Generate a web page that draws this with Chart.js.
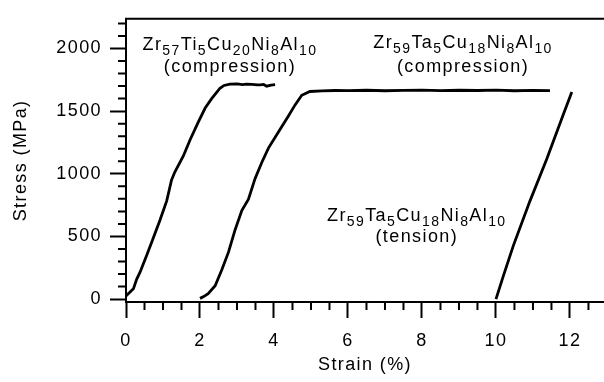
<!DOCTYPE html>
<html lang="en">
<head>
<meta charset="UTF-8">
<title>Stress-strain curves of Zr-based glasses</title>
<style>
    html, body { margin: 0; padding: 0; background: #fff; }
    #wrap { width: 604px; height: 382px; }
</style>
</head>
<body>
<div id="wrap"><canvas id="stressChart" width="604" height="382"></canvas></div>

<script src="https://cdn.jsdelivr.net/npm/chart.js@4"></script>
<script>
    // Zr57Ti5Cu20Ni8Al10, compression
    const tiCompStrain = [0.00, 0.11, 0.20, 0.29, 0.38, 0.56, 0.74, 0.92, 1.10, 1.23, 1.32, 1.55, 1.73, 1.95, 2.14, 2.32, 2.45, 2.54, 2.65, 2.81, 3.00, 3.15, 3.26, 3.40, 3.55, 3.62, 3.72, 3.80, 3.92, 4.03];
    const tiCompStress = [25, 56, 82, 160, 215, 350, 490, 631, 784, 950, 1014, 1142, 1270, 1410, 1525, 1602, 1650, 1683, 1705, 1716, 1718, 1712, 1716, 1714, 1710, 1709, 1713, 1699, 1708, 1711];

    // Zr59Ta5Cu18Ni8Al10, compression
    const taCompStrain = [2.00, 2.10, 2.22, 2.41, 2.59, 2.77, 2.95, 3.13, 3.31, 3.49, 3.67, 3.85, 4.12, 4.39, 4.57, 4.75, 4.97, 5.30, 5.65, 6.00, 6.50, 7.00, 7.50, 8.00, 8.50, 9.00, 9.50, 10.00, 10.50, 11.00, 11.46];
    const taCompStress = [6, 20, 44, 107, 235, 375, 554, 707, 797, 963, 1090, 1205, 1333, 1461, 1550, 1627, 1657, 1662, 1665, 1664, 1667, 1663, 1666, 1668, 1664, 1667, 1665, 1668, 1663, 1666, 1664];

    // Zr59Ta5Cu18Ni8Al10, tension
    const taTensStrain = [10.00, 10.20, 10.47, 10.92, 11.37, 11.82, 12.05];
    const taTensStress = [0, 185, 427, 784, 1116, 1474, 1653];

    const xTickValues = [0, 2, 4, 6, 8, 10, 12];
    const yTickValues = [0, 500, 1000, 1500, 2000];

    // curve labels ("_" starts a subscript) and where they sit, in data units
    const labelText = ['Zr_57Ti_5Cu_20Ni_8Al_10', '(compression)', 'Zr_59Ta_5Cu_18Ni_8Al_10', '(compression)', 'Zr_59Ta_5Cu_18Ni_8Al_10', '(tension)'];
    const labelStrain = [2.81, 2.81, 9.11, 9.11, 7.86, 7.86];
    const labelStress = [1992, 1816, 2000, 1816, 621, 452];

    const FAMILY = '"Liberation Sans", Arial, Helvetica, sans-serif';
    const SPACING = '1.4px';
    const axisFont = { family: FAMILY, size: 18 };

    function toPoints(xs, ys) {
        return xs.map((v, i) => ({ x: v, y: ys[i] }));
    }

    // wider letter spacing, minor ticks and the top frame line
    const framePlugin = {
        id: 'frame',
        beforeDraw(chart) {
            chart.ctx.letterSpacing = SPACING;
        },
        afterDraw(chart) {
            const { ctx, chartArea, scales: { x, y } } = chart;
            ctx.save();
            ctx.strokeStyle = '#000';
            ctx.lineWidth = 2;
            ctx.beginPath();
            ctx.moveTo(chartArea.left - 1, chartArea.top);
            ctx.lineTo(chart.width, chartArea.top);
            for (let v = 0.5; v <= x.max; v += 0.5) {
                if (v % 2 === 0) continue;
                const px = x.getPixelForValue(v);
                ctx.moveTo(px, chartArea.bottom);
                ctx.lineTo(px, chartArea.bottom + 8);
            }
            for (let v = 100; v <= y.max; v += 100) {
                if (v % 500 === 0) continue;
                const py = y.getPixelForValue(v);
                ctx.moveTo(chartArea.left, py);
                ctx.lineTo(chartArea.left - 8, py);
            }
            ctx.stroke();
            ctx.restore();
        }
    };

    const labelPlugin = {
        id: 'alloyLabels',
        afterDatasetsDraw(chart) {
            const { ctx, scales: { x, y } } = chart;
            const mainFont = '18px ' + FAMILY;
            const subFont = '14px ' + FAMILY;
            ctx.save();
            ctx.fillStyle = '#000';
            ctx.textBaseline = 'alphabetic';
            ctx.textAlign = 'left';
            ctx.letterSpacing = SPACING;
            labelText.forEach((txt, i) => {
                const parts = [...txt.matchAll(/_(\d+)|[^_]+/g)].map(m => (
                    m[1] ? { t: m[1], sub: true } : { t: m[0], sub: false }
                ));
                let total = 0;
                parts.forEach(p => {
                    ctx.font = p.sub ? subFont : mainFont;
                    p.w = ctx.measureText(p.t).width;
                    total += p.w;
                });
                let px = x.getPixelForValue(labelStrain[i]) - total / 2;
                const py = y.getPixelForValue(labelStress[i]);
                parts.forEach(p => {
                    ctx.font = p.sub ? subFont : mainFont;
                    ctx.fillText(p.t, px, p.sub ? py + 5 : py);
                    px += p.w;
                });
            });
            ctx.restore();
        }
    };

    const lineStyle = {
        borderColor: '#000',
        borderWidth: 2.8,
        pointRadius: 0,
        fill: false,
        tension: 0
    };

    new Chart(document.getElementById('stressChart'), {
        type: 'line',
        data: {
            datasets: [
                { label: 'Zr57Ti5Cu20Ni8Al10 (compression)', data: toPoints(tiCompStrain, tiCompStress), ...lineStyle },
                { label: 'Zr59Ta5Cu18Ni8Al10 (compression)', data: toPoints(taCompStrain, taCompStress), ...lineStyle },
                { label: 'Zr59Ta5Cu18Ni8Al10 (tension)', data: toPoints(taTensStrain, taTensStress), ...lineStyle }
            ]
        },
        options: {
            responsive: false,
            animation: false,
            layout: { padding: { top: 7, right: 0, bottom: 0, left: 0 } },
            plugins: {
                legend: { display: false },
                tooltip: { enabled: false }
            },
            scales: {
                x: {
                    type: 'linear',
                    min: 0,
                    max: 12.92,
                    afterBuildTicks: s => { s.ticks = xTickValues.map(v => ({ value: v })); },
                    afterFit: s => { s.height = 80; },
                    grid: { drawOnChartArea: false, drawTicks: true, tickLength: 16, tickWidth: 2, tickColor: '#000' },
                    border: { display: true, color: '#000', width: 2 },
                    ticks: { color: '#000', font: axisFont, padding: 12, maxRotation: 0, autoSkip: false },
                    title: { display: true, text: 'Strain (%)', color: '#000', font: axisFont, padding: { top: 0, bottom: 6 } }
                },
                y: {
                    type: 'linear',
                    min: -23,
                    max: 2237,
                    afterBuildTicks: s => { s.ticks = yTickValues.map(v => ({ value: v })); },
                    afterFit: s => { s.width = 126; },
                    grid: { drawOnChartArea: false, drawTicks: true, tickLength: 16, tickWidth: 2, tickColor: '#000' },
                    border: { display: true, color: '#000', width: 2 },
                    ticks: { color: '#000', font: axisFont, padding: 8, autoSkip: false, callback: v => String(v) },
                    title: { display: true, text: 'Stress (MPa)', color: '#000', font: axisFont, padding: { top: 10, bottom: 0 } }
                }
            }
        },
        plugins: [framePlugin, labelPlugin]
    });
</script>
</body>
</html>
